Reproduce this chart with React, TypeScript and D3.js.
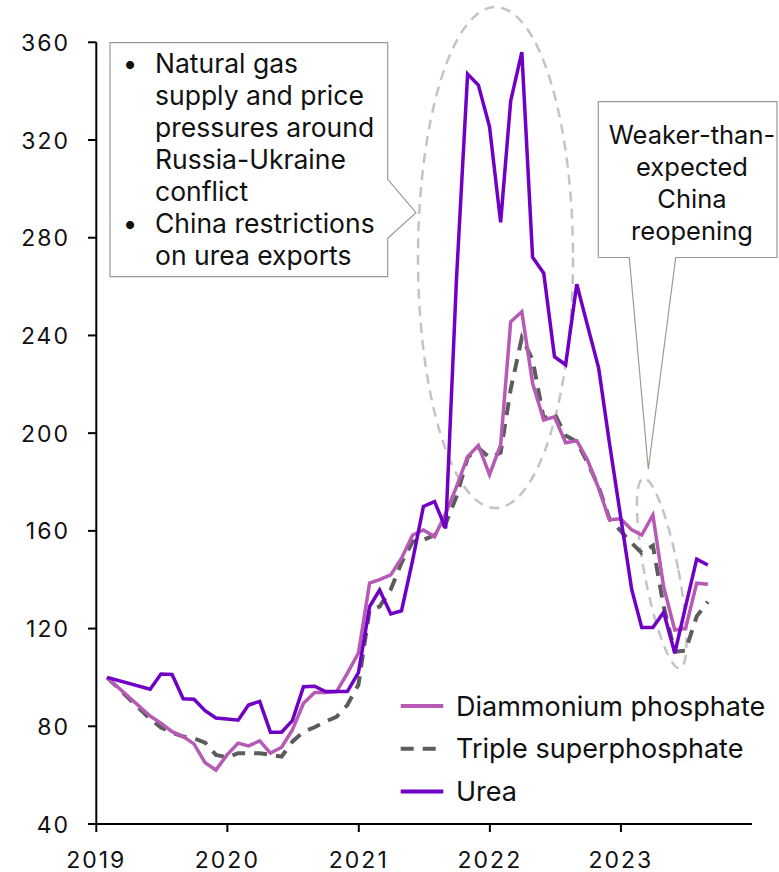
import React from "react";
import * as d3 from "d3";

const months = [
  "2019-01", "2019-05", "2019-06", "2019-07", "2019-08", "2019-09", "2019-10", "2019-11", "2019-12",
  "2020-01", "2020-02", "2020-03", "2020-04", "2020-05", "2020-06", "2020-07", "2020-08", "2020-09", "2020-10", "2020-11", "2020-12",
  "2021-01", "2021-02", "2021-03", "2021-04", "2021-05", "2021-06", "2021-07", "2021-08", "2021-09", "2021-10", "2021-11", "2021-12",
  "2022-01", "2022-02", "2022-03", "2022-04", "2022-05", "2022-06", "2022-07", "2022-08", "2022-09", "2022-10", "2022-11", "2022-12",
  "2023-01", "2023-02", "2023-03", "2023-04", "2023-05", "2023-06", "2023-07", "2023-08",
];

const urea = [
  100, 95.2, 101.4, 101.2, 91.3, 91.1, 86.4, 83.4, 83,
  82.5, 88.7, 90.2, 77.6, 77.6, 82.3, 96.2, 96.4, 94.2, 94.2, 94.2, 102,
  129, 135.8, 126, 127.3, 148, 170, 172, 161, 263, 347, 342.5, 325.5,
  286.3, 336, 356, 272, 265.5, 231.3, 228, 261, 244, 226.6, 196, 166,
  136, 120.4, 120.4, 126.7, 110, 129, 148.4, 146,
];

const dap = [
  100, 84.2, 81.3, 77.8, 75.8, 72.8, 65.1, 62.1, 68.3,
  73.1, 72, 74, 69, 71.4, 78.5, 89.4, 93.8, 93.8, 94.2, 101.7, 110,
  138.6, 140, 142, 148.8, 158.3, 160.4, 157.6, 167.2, 178, 190.4, 195, 183,
  195.2, 245.6, 249.7, 220.4, 205.4, 206.7, 196.1, 196.9, 189, 177.4, 164.5, 165,
  160.4, 158.3, 166.5, 137, 119.4, 120.1, 138.6, 138.1,
];

const tsp = [
  100, 83, 79.5, 77.4, 75.8, 75, 73.3, 68.3, 67.3,
  69, 69, 69, 68.3, 67.6, 73.7, 77.8, 79.6, 81.9, 83.9, 88.7, 97,
  127.6, 129, 136, 147, 155.6, 156.3, 158.3, 163, 174, 190, 194, 190,
  192, 218, 239, 230, 206, 208, 199, 196.5, 188, 178, 165, 160,
  155, 151, 154, 129, 110.5, 111, 125, 131,
];

const yTicks = [40, 80, 120, 160, 200, 240, 280, 320, 360];
const xTickYears = [2019, 2020, 2021, 2022, 2023];

const seriesNames = ["Diammonium phosphate", "Triple superphosphate", "Urea"];

const leftNote = [
  ["•", "Natural gas"],
  ["", "supply and price"],
  ["", "pressures around"],
  ["", "Russia-Ukraine"],
  ["", "conflict"],
  ["•", "China restrictions"],
  ["", "on urea exports"],
];
const rightNote = ["Weaker-than-", "expected", "China", "reopening"];

const FONT = "Inter, 'Noto Sans', sans-serif";

export default function App() {
  const W = 779;
  const H = 872;
  const x = d3
    .scaleTime()
    .domain([new Date(2019, 0, 1), new Date(2024, 0, 1)])
    .range([96.3, 752]);
  const y = d3.scaleLinear().domain([40, 360]).range([824, 42.3]);

  // monthly points placed at end of month
  const dates = months.map((m) => {
    const [yy, mm] = m.split("-").map(Number);
    return new Date(yy, mm, 0);
  });

  const line = d3
    .line<number>()
    .x((_, i) => x(dates[i]))
    .y((d) => y(d));

  const colors = { dap: "#b65ab6", tsp: "#5c5c5c", urea: "#7000c6" };

  const legendRows = [
    { name: seriesNames[0], color: colors.dap, dash: undefined },
    { name: seriesNames[1], color: colors.tsp, dash: "13,9" },
    { name: seriesNames[2], color: colors.urea, dash: undefined },
  ];

  const boxStroke = "#9a9a92";

  return (
    <svg
      width={W}
      height={H}
      style={{ position: "absolute", left: 0, top: 0, background: "#fff" }}
      fontFamily={FONT}
    >
      {/* annotation ellipses */}
      <ellipse
        cx={495.5}
        cy={257.5}
        rx={77.5}
        ry={250.5}
        fill="none"
        stroke="#c4c4c4"
        strokeWidth={2.5}
        strokeDasharray="10,7"
      />
      <ellipse
        cx={661.7}
        cy={573.3}
        rx={17}
        ry={96.8}
        transform="rotate(-10.9 661.7 573.3)"
        fill="none"
        stroke="#c4c4c4"
        strokeWidth={2.5}
        strokeDasharray="10,7"
      />

      {/* series */}
      <path d={line(tsp) || ""} fill="none" stroke={colors.tsp} strokeWidth={4} strokeDasharray="13,9" />
      <path d={line(dap) || ""} fill="none" stroke={colors.dap} strokeWidth={3.5} />
      <path d={line(urea) || ""} fill="none" stroke={colors.urea} strokeWidth={3.5} />

      {/* axes */}
      <line x1={96.3} x2={96.3} y1={42.3} y2={824} stroke="#000" strokeWidth={2} />
      <line x1={96.3} x2={752} y1={824} y2={824} stroke="#000" strokeWidth={2} />
      {yTicks.map((t) => (
        <g key={t}>
          <line x1={88} x2={96.3} y1={y(t)} y2={y(t)} stroke="#000" strokeWidth={2} />
          <text
            x={70}
            y={y(t) + 8.5}
            textAnchor="end"
            fontSize={23}
            letterSpacing={2}
            fill="#111"
          >
            {t}
          </text>
        </g>
      ))}
      {xTickYears.map((yr) => {
        const px = x(new Date(yr, 0, 1));
        return (
          <g key={yr}>
            <line x1={px} x2={px} y1={824} y2={832} stroke="#000" strokeWidth={2} />
            <text x={px} y={867.5} textAnchor="middle" fontSize={23} letterSpacing={2} fill="#111">
              {yr}
            </text>
          </g>
        );
      })}

      {/* left callout */}
      <path
        d="M110,42.7 L387.7,42.7 L387.7,179.3 L416,212.7 L387.7,238.3 L387.7,276.7 L110,276.7 Z"
        fill="#fff"
        stroke={boxStroke}
        strokeWidth={1.2}
      />
      {leftNote.map(([b, t], i) => (
        <g key={i}>
          {b && (
            <text x={122.7} y={73.3 + i * 32} fontSize={26} fill="#111">
              {b}
            </text>
          )}
          <text x={155} y={73.3 + i * 32} fontSize={26.5} fill="#111">
            {t}
          </text>
        </g>
      ))}

      {/* right callout */}
      <path
        d="M598.3,101.7 L777,101.7 L777,257.5 L675.7,257.5 L648.3,469 L629.3,257.5 L598.3,257.5 Z"
        fill="#fff"
        stroke={boxStroke}
        strokeWidth={1.2}
      />
      {rightNote.map((t, i) => (
        <text key={i} x={692} y={144 + i * 32} textAnchor="middle" fontSize={25.5} fill="#111">
          {t}
        </text>
      ))}

      {/* legend */}
      {legendRows.map((r, i) => {
        const ly = 706 + i * 42.8;
        return (
          <g key={r.name}>
            <line
              x1={400.7}
              x2={443.3}
              y1={ly}
              y2={ly}
              stroke={r.color}
              strokeWidth={4}
              strokeDasharray={r.dash}
            />
            <text x={456} y={ly + 9.5} fontSize={27} fill="#111">
              {r.name}
            </text>
          </g>
        );
      })}
    </svg>
  );
}
